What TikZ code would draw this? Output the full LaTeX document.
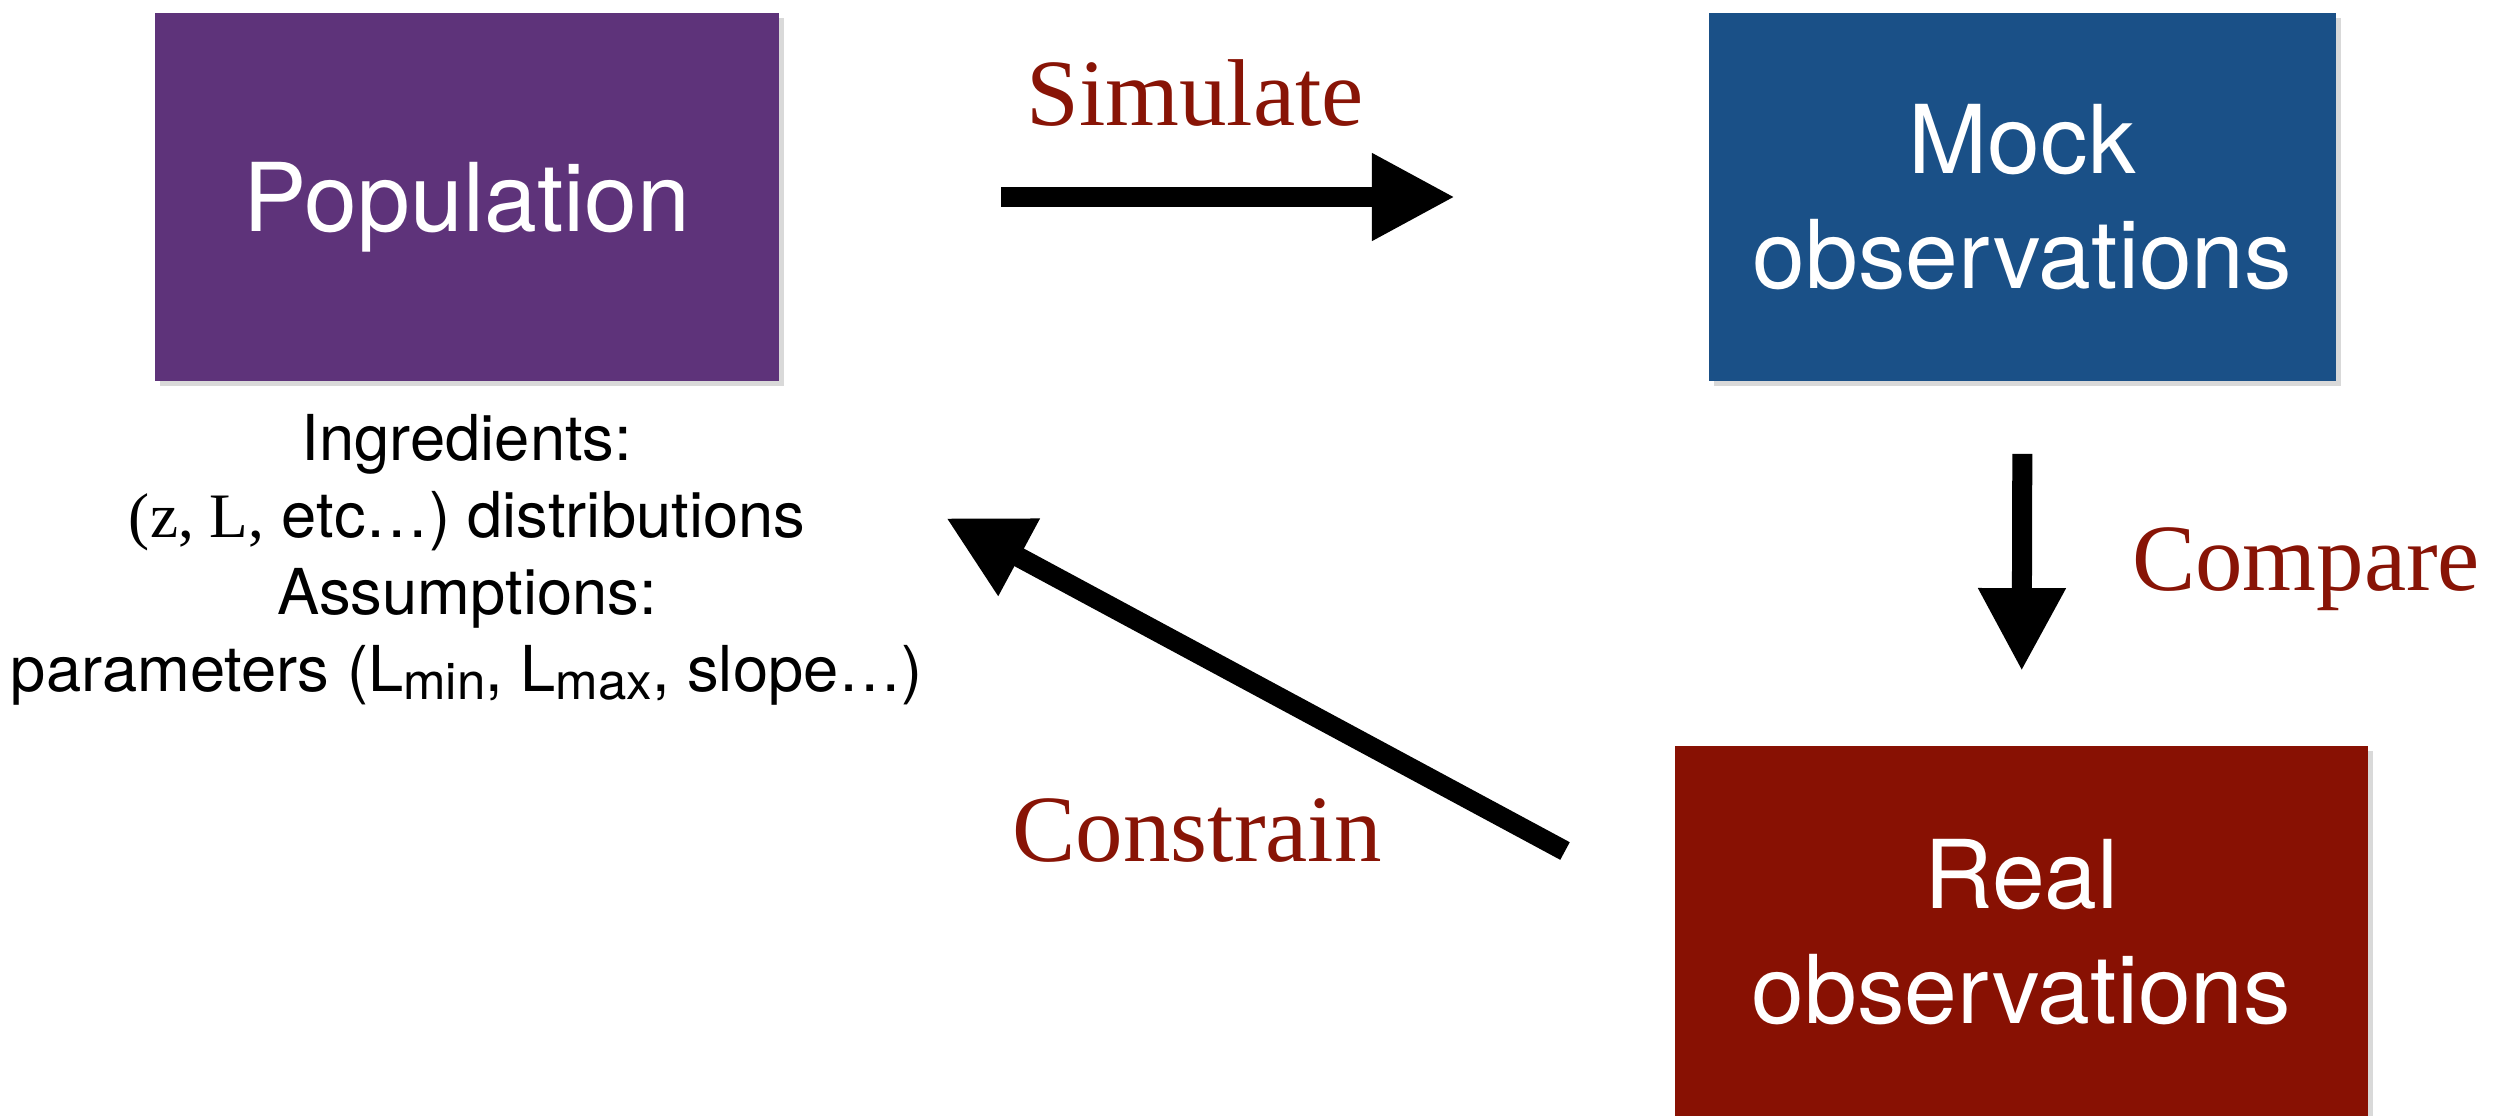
\documentclass[tikz,border=0pt]{standalone}
\usepackage{fontspec}
\setmainfont{TeX Gyre Heros}
\newfontfamily\seriffont{Liberation Serif}
\usetikzlibrary{arrows.meta,shadows}
\definecolor{popcol}{RGB}{94,51,122}
\definecolor{mockcol}{RGB}{26,80,135}
\definecolor{realcol}{RGB}{136,17,3}
\definecolor{lblred}{RGB}{136,20,6}
\newcommand\lsub[1]{\raisebox{-0.12em}{\fontsize{14.5}{14.5}\selectfont #1}}
\begin{document}
\begin{tikzpicture}[x=0.01cm,y=-0.01cm,
  box/.style={rectangle, inner sep=0pt, text=white, align=center,
    font=\fontsize{27}{32.5}\selectfont,
    drop shadow={opacity=0.3, shadow xshift=0.05cm, shadow yshift=-0.05cm}},
  bigarrow/.style={line width=0.2cm, -{Triangle[length=0.83cm,width=0.82cm]}},
  lbl/.style={text=lblred, font=\seriffont\fontsize{27}{32}\selectfont, anchor=base, inner sep=0pt}]
\useasboundingbox (0,0) rectangle (2509,1115);
\node[box, fill=popcol, minimum width=6.24cm, minimum height=3.68cm, text depth=0pt] (pop) at (467,197) {Population};
\node[box, fill=mockcol, minimum width=6.27cm, minimum height=3.68cm] (mock) at (2022.5,197) {Mock\\observations};
\node[box, fill=realcol, minimum width=6.93cm, minimum height=3.72cm] (real) at (2021.5,932) {Real\\observations};
\node[font=\fontsize{18}{21.9}\selectfont, align=center, inner sep=0pt] (ingr) at (467,560)
  {Ingredients:\\{\seriffont(z, L,} etc…) distributions\\Assumptions:\\parameters (L\lsub{min}, L\lsub{max}, slope…)};
\draw[bigarrow, shorten <=2.21cm, shorten >=2.53cm] (pop.east) -- (mock.west);
\draw[bigarrow, shorten <=0.72cm, shorten >=0.74cm] (mock.south) -- (real.north);
\coordinate (cs) at (1565,851);
\coordinate (ce) at (946,518);
\draw[bigarrow] (cs) -- (ce);
\node[lbl] (sim) at (1195,125) {Simulate};
\node[lbl] (cmp) at (2306,590) {Compare};
\node[lbl] (con) at (1197,861) {Constrain};
\end{tikzpicture}
\end{document}
